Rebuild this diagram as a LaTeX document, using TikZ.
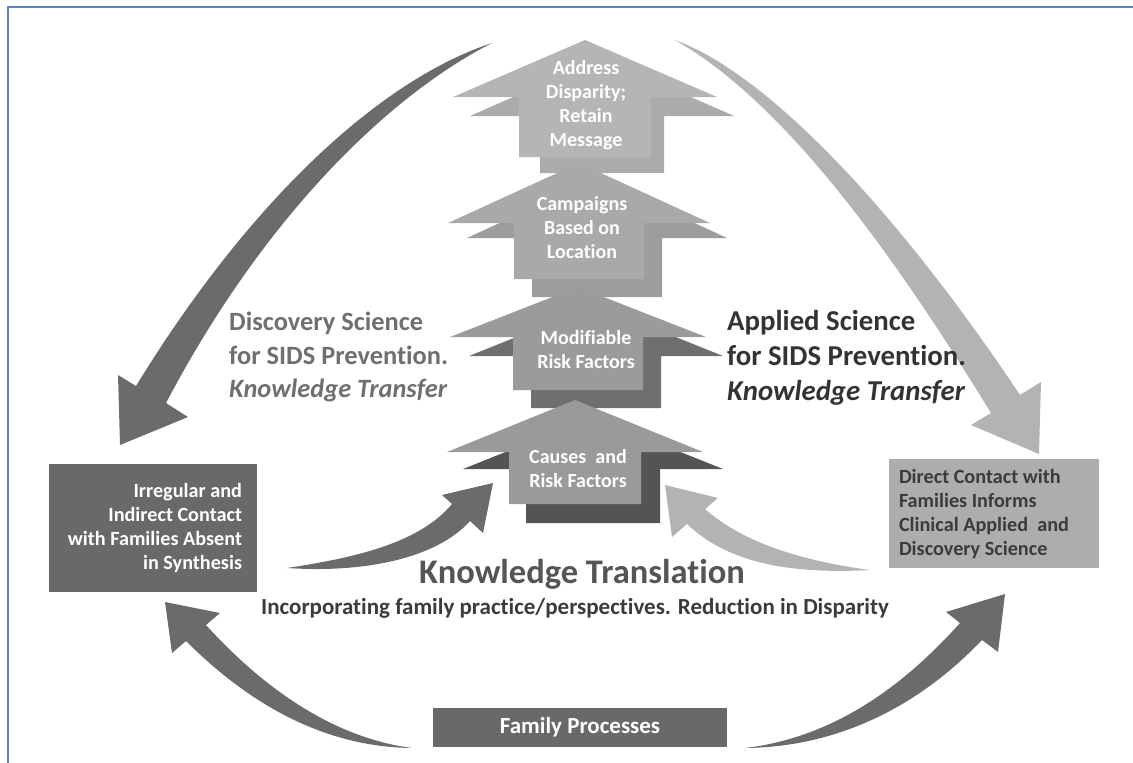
\documentclass[tikz,border=0pt]{standalone}
\usepackage{fontspec}
\setmainfont{Carlito}[Ligatures=CommonOff]

\definecolor{frameblue}{HTML}{5B86C5}
\definecolor{arrowdark}{HTML}{6B6B6B}
\definecolor{arrowlight}{HTML}{B3B3B3}
\definecolor{boxdark}{HTML}{696969}
\definecolor{boxlight}{HTML}{ADADAD}
\definecolor{textdark}{HTML}{3B3B3B}
\definecolor{textgray}{HTML}{6F6F6F}
\definecolor{textblack}{HTML}{333333}
\definecolor{texttrans}{HTML}{555555}

% house shaped up arrow: centre x, tip y, wing y, bottom y, half head, half body
\newcommand{\stepshape}[6]{(#1,#2) -- ({#1+#5},#3) -- ({#1+#6},#3) -- ({#1+#6},#4) -- ({#1-#6},#4) -- ({#1-#6},#3) -- ({#1-#5},#3) -- cycle}

\begin{document}
\begin{tikzpicture}[x=1pt,y=-1pt]

	\tikzset{
		steptext/.style={
			text=white,
			align=flush center,
			inner sep=0pt,
			font=\fontsize{20}{24}\selectfont\bfseries
		},
		boxtext/.style={
			inner ysep=0pt,
			font=\fontsize{20.2}{24}\selectfont\bfseries
		},
		science/.style={
			anchor=west,
			align=flush left,
			inner sep=0pt,
			font=\fontsize{26.4}{33.5}\selectfont\bfseries
		}
	}

	\useasboundingbox (0,0) rectangle (1133,763);

	% FRAME
	\draw[frameblue, line width=1.2pt] (8,763) -- (8,7) -- (1133,7);

	% DISCOVERY SCIENCE ARC
	\fill[arrowdark] (492,43) .. controls (380,80) and (250,200) .. (136,386)
		-- (118,375) -- (120,445) -- (188,417) -- (166,403)
		.. controls (265,215) and (390,95) .. (492,43) -- cycle;

	% APPLIED SCIENCE ARC
	\fill[arrowlight] (675,40) .. controls (770,75) and (900,215) .. (1020,395)
		-- (1041,382) -- (1039,454) -- (971,425) -- (991,413)
		.. controls (885,240) and (780,100) .. (675,40) -- cycle;

	% FAMILY PROCESSES TO BOTH SIDES
	\fill[arrowdark] (412,748) .. controls (320,747) and (245,700) .. (186,641)
		-- (172,653) -- (165,602) -- (220,613) -- (206,625)
		.. controls (265,690) and (335,738) .. (412,748) -- cycle;
	\fill[arrowdark] (745,748) .. controls (840,747) and (920,705) .. (982,640)
		-- (998,652) -- (1005,594) -- (946,612) -- (960,623)
		.. controls (900,690) and (830,738) .. (745,748) -- cycle;

	% TRANSLATION ARROWS
	\fill[arrowdark] (287,568) .. controls (360,557) and (420,542) .. (452,504)
		-- (442,495) -- (493,483) -- (483,533) -- (470,521)
		.. controls (435,560) and (360,573) .. (287,568) -- cycle;
	\fill[arrowlight] (870,570) .. controls (795,560) and (740,540) .. (705,509)
		-- (718,498) -- (665,485) -- (672,537) -- (687,524)
		.. controls (730,565) and (795,574) .. (870,570) -- cycle;

	% STEP ARROWS, top first
	\path[fill={rgb,255:red,171;green,171;blue,171}] \stepshape{602}{58}{116}{173}{132}{62};
	\path[fill={rgb,255:red,181;green,181;blue,181}] \stepshape{585}{40}{97}{157}{132}{66};

	\path[fill={rgb,255:red,157;green,157;blue,157}] \stepshape{597}{178}{238}{297}{130}{65};
	\path[fill={rgb,255:red,169;green,169;blue,169}] \stepshape{579}{163}{223}{279}{131}{65};

	\path[fill={rgb,255:red,111;green,111;blue,111}] \stepshape{596}{305}{356}{408}{127}{65};
	\path[fill={rgb,255:red,155;green,155;blue,155}] \stepshape{578}{287}{337}{390}{128}{65};

	\path[fill={rgb,255:red,84;green,84;blue,84}] \stepshape{593}{417}{469}{523}{130}{67};
	\path[fill={rgb,255:red,154;green,154;blue,154}] \stepshape{575}{400}{452}{504}{128}{66};

	% STEP LABELS
	\node[steptext] (address) at (586,105) {Address\\Disparity;\\Retain\\Message};
	\node[steptext] (campaigns) at (582,228) {Campaigns\\Based on\\Location};
	\node[steptext] (modifiable) at (586,350) {Modifiable\\Risk Factors};
	\node[steptext] (causes) at (578,469) {Causes~ and\\Risk Factors};

	% SCIENCE TEXTS
	\node[science, text=textgray] (discovery) at (229,357) {Discovery Science\\for SIDS Prevention.\\\textit{Knowledge Transfer}};
	\node[science, text=textblack, font=\fontsize{28.8}{35}\selectfont\bfseries] (applied) at (727,358) {Applied Science\\for SIDS Prevention.\\\textit{Knowledge Transfer}};

	% KNOWLEDGE TRANSLATION
	\node[text=texttrans, font=\fontsize{34.5}{40}\selectfont\bfseries] (translation) at (582,574) {Knowledge Translation};
	\node[text=textdark, font=\fontsize{23}{26}\selectfont\bfseries] (incorporating) at (575,608) {Incorporating family practice/perspectives. Reduction in Disparity};

	% BOXES
	\node[boxtext, fill=boxdark, text=white, align=flush right, text width=178pt, inner xsep=15pt,
		minimum width=208pt, minimum height=128pt] (irregular) at (153,528)
		{Irregular and\\Indirect Contact\\with Families Absent\\in Synthesis};
	\node[boxtext, fill=boxlight, text=textdark, align=flush left, text width=190pt, inner xsep=10pt,
		minimum width=210pt, minimum height=109pt] (direct) at (994,513.5)
		{Direct Contact with\\Families Informs\\Clinical Applied~ and\\Discovery Science};
	\node[boxtext, fill=boxdark, text=white, font=\fontsize{23}{26}\selectfont\bfseries,
		minimum width=294pt, minimum height=39pt] (family) at (580,727.5) {Family Processes};

\end{tikzpicture}
\end{document}
